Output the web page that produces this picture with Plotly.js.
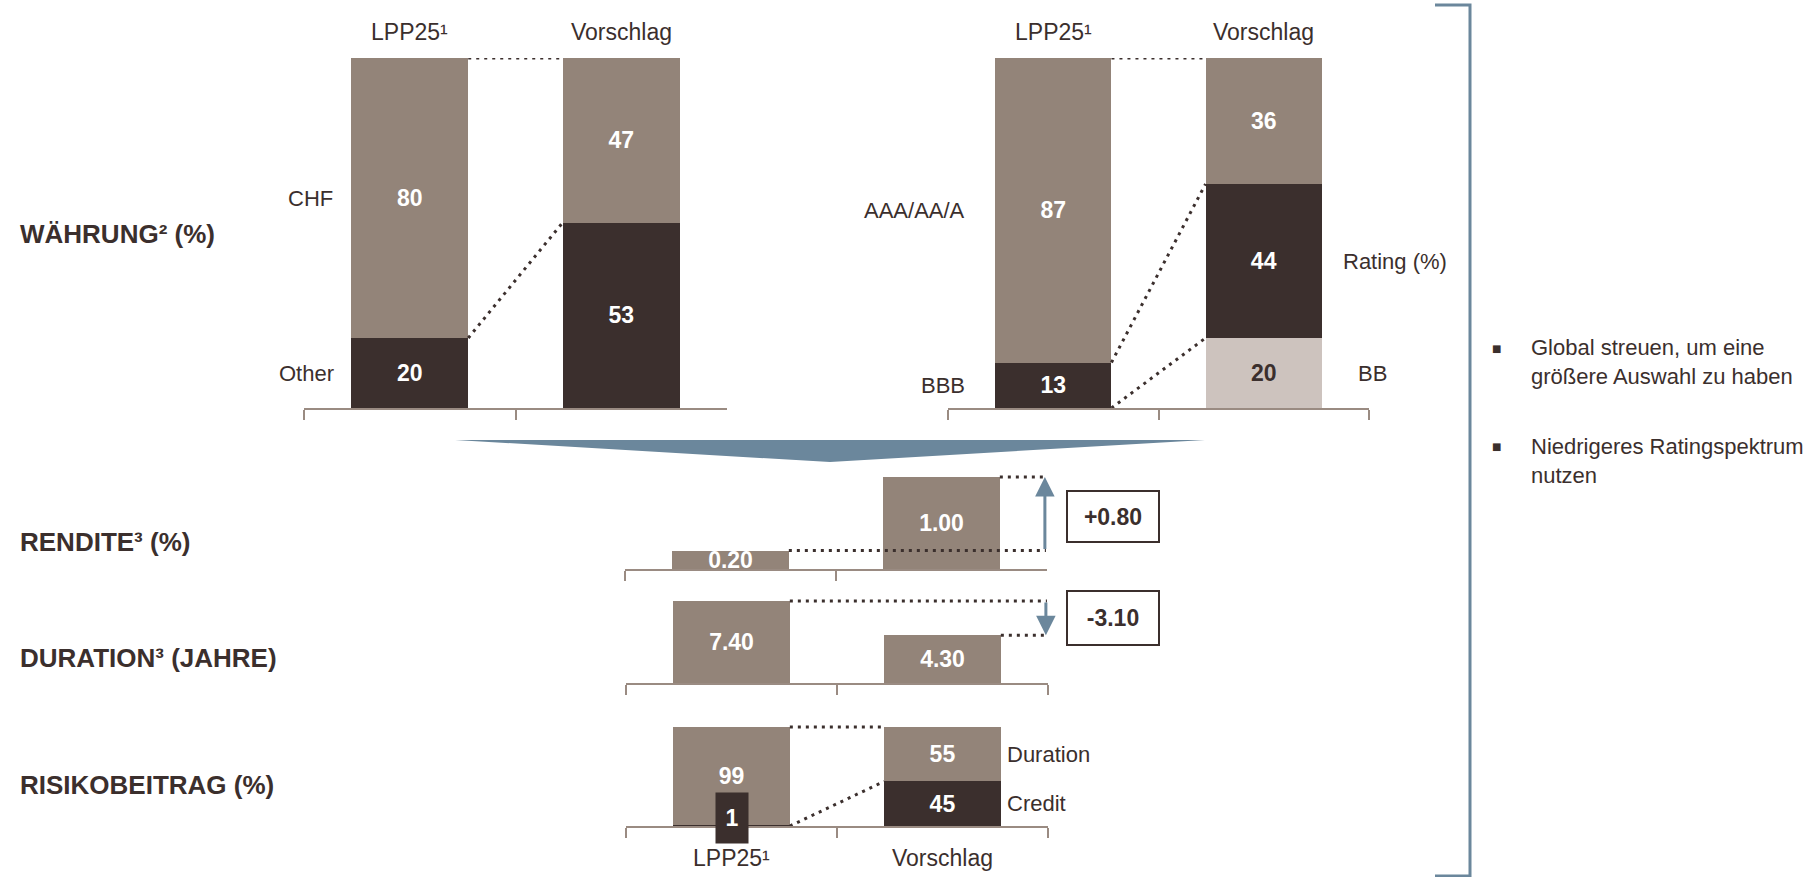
<!DOCTYPE html>
<html>
<head>
<meta charset="utf-8">
<script src="https://cdn.plot.ly/plotly-3.0.1.min.js"></script>
<style>
  html, body { margin: 0; padding: 0; background: #ffffff; }
  #chart { width: 1816px; height: 877px; }
</style>
</head>
<body>
<div id="chart"></div>
<script>
// ---------------- DATA ----------------
const categories = ['LPP25', 'Vorschlag'];
const categoryLabels = ['LPP25¹', 'Vorschlag'];

const currencyCHF = [80, 47];
const currencyOther = [20, 53];

const ratingAAA = [87, 36];
const ratingBBB = [13, 44];
const ratingBB = [0, 20];

const yieldVals = [0.20, 1.00];
const durationVals = [7.40, 4.30];

const riskDuration = [99, 55];
const riskCredit = [1, 45];

const rowHeadings = ['WÄHRUNG² (%)', 'RENDITE³ (%)', 'DURATION³ (JAHRE)', 'RISIKOBEITRAG (%)'];
const bullets = ['Global streuen, um eine<br>größere Auswahl zu haben', 'Niedrigeres Ratingspektrum<br>nutzen'];

// ---------------- STYLE ----------------
const FONT = '"Liberation Sans Narrow", "Arial Narrow", "Liberation Sans", Arial, sans-serif';
const TAUPE = '#938479';
const DARK = '#3b2f2d';
const LIGHT = '#cdc3be';
const AXIS = '#9a8b82';
const BLUE = '#6b879c';
const TXT = '#3b2f2d';
const BARW = 0.553;
const W = 1816, H = 877;
const px = v => v / W;
const py = v => 1 - v / H;

const VAL_SIZE = 23, CAT_SIZE = 23, SER_SIZE = 22, HEAD_SIZE = 26, BUL_SIZE = 22, BOX_SIZE = 23;

const intText = arr => arr.map(v => v ? String(v) : '');
const decText = arr => arr.map(v => v.toFixed(2));

function bar(name, y, color, xa, ya, text, textColor) {
  return {
    type: 'bar', name: name, x: categories, y: y,
    xaxis: xa, yaxis: ya, width: BARW,
    marker: { color: color, line: { width: 0 } },
    text: text, textposition: 'inside', insidetextanchor: 'middle',
    textangle: 0, constraintext: 'none',
    textfont: { family: FONT, size: VAL_SIZE, color: textColor || '#ffffff', weight: 'bold' },
    hoverinfo: 'skip', showlegend: false
  };
}

const riskCreditText = riskCredit.map((v, i) => i === 0 ? '' : String(v));

const data = [
  // Währung
  bar('Other', currencyOther, DARK, 'x', 'y', intText(currencyOther)),
  bar('CHF', currencyCHF, TAUPE, 'x', 'y', intText(currencyCHF)),
  // Rating
  bar('BB', ratingBB, LIGHT, 'x2', 'y2', intText(ratingBB), DARK),
  bar('BBB', ratingBBB, DARK, 'x2', 'y2', intText(ratingBBB)),
  bar('AAA/AA/A', ratingAAA, TAUPE, 'x2', 'y2', intText(ratingAAA)),
  // Rendite
  bar('Rendite', yieldVals, TAUPE, 'x3', 'y3', decText(yieldVals)),
  // Duration
  bar('Duration', durationVals, TAUPE, 'x4', 'y4', decText(durationVals)),
  // Risikobeitrag
  bar('Credit', riskCredit, DARK, 'x5', 'y5', riskCreditText),
  bar('Duration', riskDuration, TAUPE, 'x5', 'y5', intText(riskDuration))
];

function xAxis(domain, anchor) {
  return {
    domain: domain, anchor: anchor, type: 'category',
    categoryorder: 'array', categoryarray: categories,
    range: [-0.5, 1.5], tickson: 'boundaries',
    showline: true, linecolor: AXIS, linewidth: 2,
    ticks: 'outside', ticklen: 10, tickwidth: 2, tickcolor: AXIS,
    showticklabels: false, showgrid: false, zeroline: false, fixedrange: true
  };
}
function yAxis(domain, anchor, range) {
  return {
    domain: domain, anchor: anchor, range: range, visible: false,
    showgrid: false, zeroline: false, fixedrange: true
  };
}

// dotted connectors
const DOT = { color: DARK, width: 3, dash: '3px,5px' };
function conn(xa, ya, x0, y0, x1, y1) {
  return { type: 'line', xref: xa, yref: ya, x0: x0, y0: y0, x1: x1, y1: y1, line: DOT, layer: 'above' };
}
const hw = BARW / 2;
const shapes = [
  // Währung
  conn('x', 'y', hw, currencyOther[0] + currencyCHF[0], 1 - hw, currencyOther[1] + currencyCHF[1]),
  conn('x', 'y', hw, currencyOther[0], 1 - hw, currencyOther[1]),
  // Rating
  conn('x2', 'y2', hw, ratingBB[0] + ratingBBB[0] + ratingAAA[0], 1 - hw, ratingBB[1] + ratingBBB[1] + ratingAAA[1]),
  conn('x2', 'y2', hw, ratingBB[0] + ratingBBB[0], 1 - hw, ratingBB[1] + ratingBBB[1]),
  conn('x2', 'y2', hw, ratingBB[0], 1 - hw, ratingBB[1]),
  // Rendite
  conn('x3', 'y3', hw, yieldVals[0], 1.495, yieldVals[0]),
  conn('x3', 'y3', 1 + hw, yieldVals[1], 1.495, yieldVals[1]),
  // Duration
  conn('x4', 'y4', hw, durationVals[0], 1.495, durationVals[0]),
  conn('x4', 'y4', 1 + hw, durationVals[1], 1.495, durationVals[1]),
  // Risiko
  conn('x5', 'y5', hw, riskCredit[0] + riskDuration[0], 1 - hw, riskCredit[1] + riskDuration[1]),
  conn('x5', 'y5', hw, 0, 1 - hw, riskCredit[1]),
  // chevron
  { type: 'path', xref: 'paper', yref: 'paper',
    path: `M ${px(455)} ${py(440)} L ${px(1205)} ${py(440)} L ${px(830)} ${py(462)} Z`,
    fillcolor: BLUE, line: { width: 0 } },
  // bracket
  { type: 'path', xref: 'paper', yref: 'paper',
    path: `M ${px(1435)} ${py(5)} L ${px(1470)} ${py(5)} L ${px(1470)} ${py(876)} L ${px(1435)} ${py(876)}`,
    line: { color: BLUE, width: 3 } }
];

const annotations = [];
function ann(o) {
  annotations.push(Object.assign({ showarrow: false, font: { family: FONT, size: CAT_SIZE, color: TXT } }, o));
}
const serFont = { family: FONT, size: SER_SIZE, color: TXT };

// top category labels
['x', 'x2'].forEach((xa, k) => {
  const ya = k === 0 ? 'y' : 'y2';
  categoryLabels.forEach((lab, i) => {
    ann({ xref: xa, yref: ya, x: i, y: 100, yshift: 26, text: lab, xanchor: 'center', yanchor: 'middle' });
  });
});
// bottom category labels (risk)
categoryLabels.forEach((lab, i) => {
  ann({ xref: 'x5', yref: 'y5', x: i, y: 0, yshift: -32, text: lab, xanchor: 'center', yanchor: 'middle' });
});

// series labels
ann({ xref: 'x', yref: 'y', x: -hw, y: currencyOther[0] + currencyCHF[0] / 2, xshift: -16, text: 'CHF', xanchor: 'right', yanchor: 'middle', font: serFont });
ann({ xref: 'x', yref: 'y', x: -hw, y: currencyOther[0] / 2, xshift: -15, text: 'Other', xanchor: 'right', yanchor: 'middle', font: serFont });
ann({ xref: 'x2', yref: 'y2', x: -hw, y: ratingBBB[0] + ratingAAA[0] / 2, xshift: -28, text: 'AAA/AA/A', xanchor: 'right', yanchor: 'middle', font: serFont });
ann({ xref: 'x2', yref: 'y2', x: -hw, y: ratingBBB[0] / 2, xshift: -28, text: 'BBB', xanchor: 'right', yanchor: 'middle', font: serFont });
ann({ xref: 'x2', yref: 'y2', x: 1 + hw, y: ratingBB[1] + ratingBBB[1] / 2, xshift: 19, text: 'Rating (%)', xanchor: 'left', yanchor: 'middle', font: serFont });
ann({ xref: 'x2', yref: 'y2', x: 1 + hw, y: ratingBB[1] / 2, xshift: 34, text: 'BB', xanchor: 'left', yanchor: 'middle', font: serFont });
ann({ xref: 'x5', yref: 'y5', x: 1 + hw, y: riskCredit[1] + riskDuration[1] / 2, xshift: 4, text: 'Duration', xanchor: 'left', yanchor: 'middle', font: serFont });
ann({ xref: 'x5', yref: 'y5', x: 1 + hw, y: riskCredit[1] / 2, xshift: 4, text: 'Credit', xanchor: 'left', yanchor: 'middle', font: serFont });

// "1" label box for LPP25 credit contribution
ann({ xref: 'x5', yref: 'y5', x: 0, y: 0, yshift: 8, text: '<b>' + riskCredit[0] + '</b>',
      bgcolor: DARK, width: 32, height: 50, borderpad: 0, xanchor: 'center', yanchor: 'middle',
      font: { family: FONT, size: VAL_SIZE, color: '#ffffff' } });

// arrows
annotations.push({ xref: 'x3', yref: 'y3', axref: 'x3', ayref: 'y3', x: 1.49, y: yieldVals[1], ax: 1.49, ay: yieldVals[0],
  text: '', showarrow: true, arrowhead: 2, arrowsize: 1.3, arrowwidth: 3, arrowcolor: BLUE, standoff: 0, startstandoff: 0 });
annotations.push({ xref: 'x4', yref: 'y4', axref: 'x4', ayref: 'y4', x: 1.49, y: durationVals[1], ax: 1.49, ay: durationVals[0],
  text: '', showarrow: true, arrowhead: 2, arrowsize: 1.3, arrowwidth: 3, arrowcolor: BLUE, standoff: 0, startstandoff: 0 });

// difference boxes
const fmtDiff = d => (d >= 0 ? '+' : '-') + Math.abs(d).toFixed(2);
const boxFont = { family: FONT, size: BOX_SIZE, color: TXT };
ann({ xref: 'paper', yref: 'y3', x: px(1113), y: (yieldVals[0] + yieldVals[1]) / 2, yshift: -3,
      text: '<b>' + fmtDiff(yieldVals[1] - yieldVals[0]) + '</b>', bordercolor: DARK, borderwidth: 2, borderpad: 0,
      width: 90, height: 49, bgcolor: '#ffffff', xanchor: 'center', yanchor: 'middle', font: boxFont });
ann({ xref: 'paper', yref: 'y4', x: px(1113), y: (durationVals[0] + durationVals[1]) / 2,
      text: '<b>' + fmtDiff(durationVals[1] - durationVals[0]) + '</b>', bordercolor: DARK, borderwidth: 2, borderpad: 0,
      width: 90, height: 52, bgcolor: '#ffffff', xanchor: 'center', yanchor: 'middle', font: boxFont });

// row headings
const headingY = [234, 542, 658, 785];
rowHeadings.forEach((h, i) => {
  ann({ xref: 'paper', yref: 'paper', x: px(18), y: py(headingY[i]), text: '<b>' + h + '</b>',
        xanchor: 'left', yanchor: 'middle', font: { family: FONT, size: HEAD_SIZE, color: TXT } });
});

// bullets
const bulletY = [362, 461];
const bulletMarkY = [348, 446];
bullets.forEach((b, i) => {
  ann({ xref: 'paper', yref: 'paper', x: px(1496), y: py(bulletMarkY[i]), text: '■', xanchor: 'center', yanchor: 'middle',
        font: { family: '"DejaVu Sans", sans-serif', size: 10, color: TXT } });
  ann({ xref: 'paper', yref: 'paper', x: px(1529), y: py(bulletY[i]), text: b, align: 'left',
        xanchor: 'left', yanchor: 'middle', font: { family: FONT, size: BUL_SIZE, color: TXT } });
});

const layout = {
  width: W, height: H,
  margin: { l: 0, r: 0, t: 0, b: 0, pad: 0 },
  paper_bgcolor: '#ffffff', plot_bgcolor: 'rgba(0,0,0,0)',
  barmode: 'stack', showlegend: false,
  font: { family: FONT, color: TXT },
  xaxis: xAxis([px(304), px(727)], 'y'),
  yaxis: yAxis([py(408), py(58)], 'x', [0, 100]),
  xaxis2: xAxis([px(948), px(1369)], 'y2'),
  yaxis2: yAxis([py(408), py(58)], 'x2', [0, 100]),
  xaxis3: xAxis([px(625), px(1047)], 'y3'),
  yaxis3: yAxis([py(569), py(458.6)], 'x3', [0, 1.2]),
  xaxis4: xAxis([px(626), px(1048)], 'y4'),
  yaxis4: yAxis([py(683), py(588.8)], 'x4', [0, 8.5]),
  xaxis5: xAxis([px(626), px(1048)], 'y5'),
  yaxis5: yAxis([py(826), py(717.1)], 'x5', [0, 110]),
  shapes: shapes,
  annotations: annotations
};

Plotly.newPlot('chart', data, layout, { staticPlot: true, displayModeBar: false });
</script>
</body>
</html>
